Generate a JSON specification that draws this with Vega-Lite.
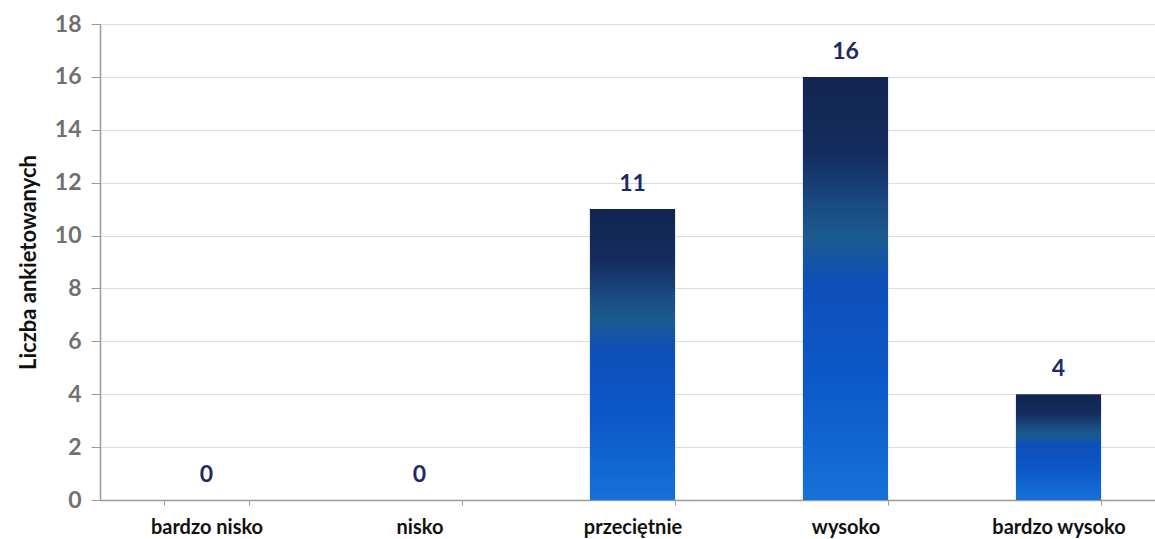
{
  "$schema": "https://vega.github.io/schema/vega-lite/v6.json",
  "autosize": "none",
  "width": 1065,
  "height": 476,
  "padding": {"left": 100, "top": 24, "right": 0, "bottom": 39},
  "background": "white",
  "data": {
    "values": [
      {"kategoria": "bardzo nisko", "liczba": 0},
      {"kategoria": "nisko", "liczba": 0},
      {"kategoria": "przeciętnie", "liczba": 11},
      {"kategoria": "wysoko", "liczba": 16},
      {"kategoria": "bardzo wysoko", "liczba": 4}
    ]
  },
  "config": {
    "view": {"stroke": null},
    "font": "Lato"
  },
  "encoding": {
    "x": {
      "field": "kategoria",
      "type": "nominal",
      "sort": null,
      "scale": {"paddingInner": 0.6, "paddingOuter": 0.3},
      "axis": {
        "title": null,
        "labelAngle": 0,
        "labelFont": "Lato",
        "labelFontWeight": "bold",
        "labelFontSize": 20,
        "labelColor": "#111111",
        "labelPadding": 12,
        "domainColor": "#9a9a9a",
        "domainWidth": 1.5,
        "tickColor": "#9a9a9a",
        "tickSize": 5,
        "tickBand": "extent",
        "grid": false
      }
    },
    "y": {
      "field": "liczba",
      "type": "quantitative",
      "scale": {"domain": [0, 18], "nice": false},
      "axis": {
        "title": "Liczba ankietowanych",
        "titleFont": "Lato",
        "titleFontSize": 22,
        "titleFontWeight": "bold",
        "titleColor": "#111111",
        "titlePadding": 14,
        "values": [0, 2, 4, 6, 8, 10, 12, 14, 16, 18],
        "labelFont": "Lato",
        "labelFontSize": 23,
        "labelFontWeight": "bold",
        "labelColor": "#707070",
        "labelPadding": 10,
        "tickColor": "#9a9a9a",
        "tickSize": 9,
        "domainColor": "#9a9a9a",
        "domainWidth": 1.5,
        "gridColor": "#dcdcdc",
        "gridWidth": 1
      }
    }
  },
  "layer": [
    {
      "mark": {
        "type": "bar",
        "color": {
          "gradient": "linear",
          "x1": 0, "y1": 0, "x2": 0, "y2": 1,
          "stops": [
            {"offset": 0, "color": "#112550"},
            {"offset": 0.18, "color": "#142c5e"},
            {"offset": 0.3, "color": "#1a4a82"},
            {"offset": 0.38, "color": "#1b5b8f"},
            {"offset": 0.48, "color": "#0e4fb8"},
            {"offset": 0.7, "color": "#0c57c8"},
            {"offset": 1, "color": "#1671d8"}
          ]
        }
      }
    },
    {
      "mark": {
        "type": "text",
        "baseline": "bottom",
        "dy": -13,
        "font": "Lato",
        "fontSize": 23,
        "fontWeight": "bold",
        "color": "#1c2a6a"
      },
      "encoding": {"text": {"field": "liczba", "type": "quantitative"}}
    }
  ]
}
